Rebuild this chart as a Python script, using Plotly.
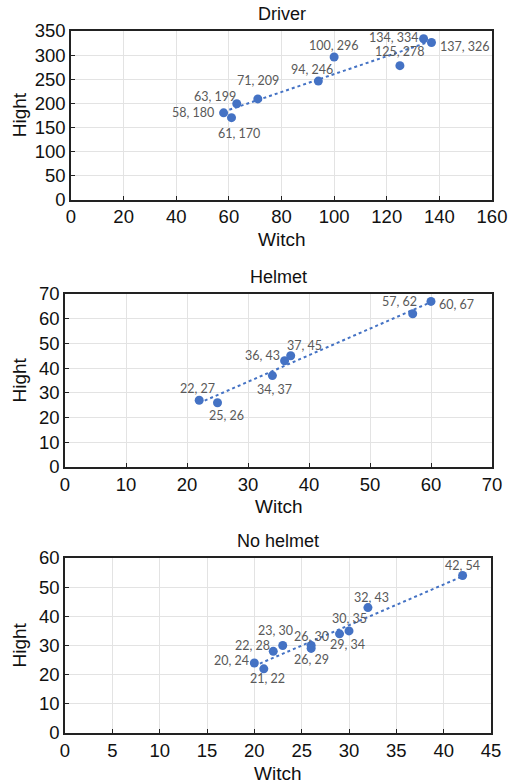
import numpy as np
import plotly.graph_objects as go

# Data
driver_w = [58, 61, 63, 71, 94, 100, 125, 134, 137]
driver_h = [180, 170, 199, 209, 246, 296, 278, 334, 326]

helmet_w = [22, 25, 34, 36, 37, 57, 60]
helmet_h = [27, 26, 37, 43, 45, 62, 67]

nohelmet_w = [20, 21, 22, 23, 26, 26, 29, 30, 32, 42]
nohelmet_h = [24, 22, 28, 30, 30, 29, 34, 35, 43, 54]

titles = ["Driver", "Helmet", "No helmet"]
x_ranges = [(0, 160, 20), (0, 70, 10), (0, 45, 5)]
y_ranges = [(0, 350, 50), (0, 70, 10), (0, 60, 10)]

# data-label pixel offsets (style only)
driver_off = [(-31, 0), (7, 16), (-22, -7), (0, -18), (-6, -12), (0, -12), (0, -14),
              (-30, -1), (34, 4)]
helmet_off = [(-2, -12), (9, 13), (2, 14), (-22, -5), (14, -10), (-13, -12), (25, 3)]
nohelmet_off = [(-23, -3), (4, 10), (-21, -6), (-7, -15), (0, -9), (0, 11), (8, 11),
                (0, -12), (4, -10), (0, -10)]

W, H = 511, 784
# panel pixel boxes: left, right, top, bottom
boxes = [(71, 492, 31, 199.5), (65, 492, 294, 467), (65, 491, 558, 733)]

BLUE = "#4472C4"
TXT = "#111111"
fig = go.Figure()
datasets = [(driver_w, driver_h, driver_off), (helmet_w, helmet_h, helmet_off),
            (nohelmet_w, nohelmet_h, nohelmet_off)]


def px(xp):
    return xp / W


def py(yp):
    return 1 - yp / H


annotations = []
for i, ((xs, ys, offs), (l, r, t, b)) in enumerate(zip(datasets, boxes)):
    n = "" if i == 0 else str(i + 1)
    xa, ya = "x" + n, "y" + n
    # linear trendline fit
    k, c = np.polyfit(xs, ys, 1)
    xmin, xmax = min(xs), max(xs)
    fig.add_trace(go.Scatter(x=[xmin, xmax], y=[k * xmin + c, k * xmax + c], mode="lines",
                             line=dict(color=BLUE, width=2, dash="dot"),
                             xaxis=xa, yaxis=ya, showlegend=False, hoverinfo="skip"))
    fig.add_trace(go.Scatter(x=xs, y=ys, mode="markers",
                             marker=dict(color=BLUE, size=9),
                             xaxis=xa, yaxis=ya, showlegend=False))
    for xv, yv, (ox, oy) in zip(xs, ys, offs):
        annotations.append(dict(text=f"{xv}, {yv}", x=xv, y=yv, xref=xa, yref=ya,
                                xshift=ox, yshift=-oy, showarrow=False,
                                xanchor="center", yanchor="middle",
                                font=dict(family="Lato", size=12.5, color="#595959")))
    x0, x1, dx = x_ranges[i]
    y0, y1, dy = y_ranges[i]
    common = dict(showgrid=True, gridcolor="#e3e3e3", gridwidth=1, zeroline=False,
                  showline=True, linecolor="#222222", linewidth=1.5, mirror=True,
                  ticks="inside", ticklen=4, tickcolor="#222222", automargin=False,
                  tickfont=dict(family="Liberation Sans", size=18.5, color=TXT))
    fig.update_layout(**{
        "xaxis" + n: dict(domain=[px(l), px(r)], range=[x0, x1], dtick=dx, tick0=0,
                          anchor=ya, **common),
        "yaxis" + n: dict(domain=[py(b), py(t)], range=[y0, y1], dtick=dy, tick0=0,
                          anchor=xa, **common),
    })
    cx = px((l + r) / 2)
    annotations.append(dict(text=titles[i], x=cx, y=py(t - 17), xref="paper", yref="paper",
                            xanchor="center", yanchor="middle", showarrow=False,
                            font=dict(family="Liberation Sans", size=18, color=TXT)))
    annotations.append(dict(text="Witch", x=cx, y=py(b + 40), xref="paper", yref="paper",
                            xanchor="center", yanchor="middle", showarrow=False,
                            font=dict(family="Liberation Sans", size=19, color=TXT)))
    annotations.append(dict(text="Hight", x=px(19), y=py((t + b) / 2), xref="paper", yref="paper",
                            xanchor="center", yanchor="middle", showarrow=False, textangle=-90,
                            font=dict(family="Liberation Sans", size=19, color=TXT)))

fig.update_layout(width=W, height=H, margin=dict(l=0, r=0, t=0, b=0, autoexpand=False),
                  paper_bgcolor="white", plot_bgcolor="white",
                  annotations=annotations, showlegend=False)

post = ("document.documentElement.style.margin='0';document.documentElement.style.padding='0';"
        "document.documentElement.style.overflow='hidden';"
        "document.body.style.margin='0';document.body.style.padding='0';"
        "document.body.style.overflow='hidden';")
fig.write_html("out.html", post_script=post, config={"displayModeBar": False})
